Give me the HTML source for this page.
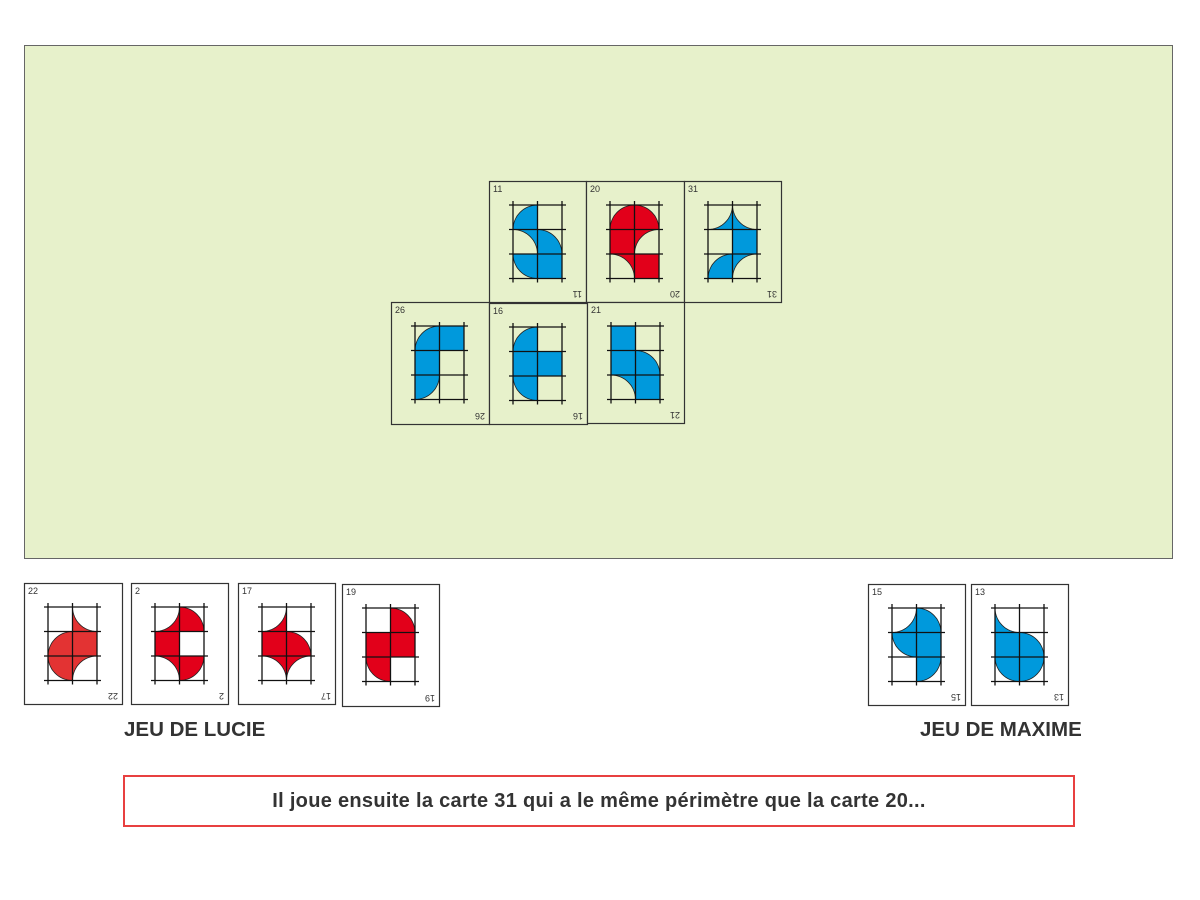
<!DOCTYPE html>
<html><head><meta charset="utf-8">
<style>
body{margin:0;width:1200px;height:900px;background:#fff;overflow:hidden;position:relative;font-family:"Liberation Sans",Arial,sans-serif}
#panel{position:absolute;left:24px;top:45px;width:1147px;height:512px;background:#e7f1cb;border:1px solid #666}
.lbl{position:absolute;font-weight:bold;font-size:20.5px;color:#333;top:718px}
#msg{position:absolute;left:123px;top:775px;width:952px;height:52px;border:2px solid #e84040;box-sizing:border-box;text-align:center;line-height:49px;font-weight:bold;font-size:20px;letter-spacing:0.3px;color:#333}
svg{position:absolute;left:0;top:0}
</style></head><body>
<div id="panel"></div>
<div class="lbl" style="left:124px">JEU DE LUCIE</div>
<div class="lbl" style="left:920px">JEU DE MAXIME</div>
<div id="msg">Il joue ensuite la carte 31 qui a le même périmètre que la carte 20...</div>
<svg id="s" width="1200" height="900" xmlns="http://www.w3.org/2000/svg"></svg>
<script>
var B='#0099dc',R='#e2001a',R2='#e33333';
var cards=[
[11,489,181,97,121,'#e7f1cb',B,[[0,0,'q','br'],[0,1,'n','bl'],[1,1,'q','bl'],[0,2,'q','tr'],[1,2,'F']]],
[20,586,181,98,121,'#e7f1cb',R,[[0,0,'q','br'],[1,0,'q','bl'],[0,1,'F'],[1,1,'n','br'],[0,2,'n','bl'],[1,2,'F']]],
[31,684,181,97,121,'#e7f1cb',B,[[0,0,'n','tl'],[1,0,'n','tr'],[1,1,'F'],[0,2,'q','br'],[1,2,'n','br']]],
[26,391,302,98,122,'#e7f1cb',B,[[0,0,'q','br'],[1,0,'F'],[0,1,'F'],[0,2,'q','tl']]],
[16,489,303,98,121,'#e7f1cb',B,[[0,0,'q','br'],[0,1,'F'],[1,1,'F'],[0,2,'q','tr']]],
[21,587,302,97,121,'#e7f1cb',B,[[0,0,'F'],[0,1,'F'],[1,1,'q','bl'],[0,2,'n','bl'],[1,2,'F']]],
[22,24,583,98,121,'#fff',R2,[[1,0,'n','tr'],[0,1,'q','br'],[1,1,'F'],[0,2,'q','tr'],[1,2,'n','br']]],
[2,131,583,97,121,'#fff',R,[[0,0,'n','tl'],[1,0,'q','bl'],[0,1,'F'],[0,2,'n','bl'],[1,2,'q','tl']]],
[17,238,583,97,121,'#fff',R,[[0,0,'n','tl'],[0,1,'F'],[1,1,'q','bl'],[0,2,'n','bl'],[1,2,'n','br']]],
[19,342,584,97,122,'#fff',R,[[1,0,'q','bl'],[0,1,'F'],[1,1,'F'],[0,2,'q','tr']]],
[15,868,584,97,121,'#fff',B,[[0,0,'n','tl'],[1,0,'q','bl'],[0,1,'q','tr'],[1,1,'F'],[1,2,'q','tl']]],
[13,971,584,97,121,'#fff',B,[[0,0,'n','tr'],[0,1,'F'],[1,1,'q','bl'],[0,2,'q','tr'],[1,2,'q','tl']]]
];
var C=24.5,h='';
var corner={tl:[0,0],tr:[1,0],bl:[0,1],br:[1,1]};
function arc(cx,cy,a0,a1){var p=[];for(var i=0;i<=16;i++){var a=a0+(a1-a0)*i/16;p.push([cx+Math.cos(a),cy+Math.sin(a)]);}return p;}
function piece(c,r,t,k){
 if(t=='F')return [[c,r],[c+1,r],[c+1,r+1],[c,r+1]];
 var cc=corner[k],cx=c+cc[0],cy=r+cc[1];
 var sx=cc[0]?-1:1,sy=cc[1]?-1:1;
 var ax=Math.atan2(0,sx),ay=Math.atan2(sy,0);
 var a0=ax,a1=ay; if(a1-a0>Math.PI)a1-=2*Math.PI; if(a0-a1>Math.PI)a1+=2*Math.PI;
 var pts=arc(cx,cy,a0,a1);
 if(t=='q'){pts.unshift([cx,cy]);return pts;}
 pts.push([cx+sx,cy+sy]);return pts;
}
cards.forEach(function(d){
 var n=d[0],x=d[1],y=d[2],w=d[3],ht=d[4],bg=d[5],col=d[6];
 var gx=x+24,gy=y+24;
 h+='<rect x="'+(x+.5)+'" y="'+(y+.5)+'" width="'+w+'" height="'+ht+'" fill="'+bg+'" stroke="#333" stroke-width="1.2"/>';
 d[7].forEach(function(p){var pts=piece(p[0],p[1],p[2],p[3]);
  h+='<polygon points="'+pts.map(function(q){return (gx+q[0]*C).toFixed(1)+','+(gy+q[1]*C).toFixed(1)}).join(' ')+'" fill="'+col+'" stroke="#222" stroke-width="0.8"/>';});
 for(var i=0;i<3;i++)h+='<line x1="'+(gx+i*C)+'" y1="'+(gy-4)+'" x2="'+(gx+i*C)+'" y2="'+(gy+3*C+4)+'" stroke="#111" stroke-width="1.3"/>';
 for(var j=0;j<4;j++)h+='<line x1="'+(gx-4)+'" y1="'+(gy+j*C)+'" x2="'+(gx+2*C+4)+'" y2="'+(gy+j*C)+'" stroke="#111" stroke-width="1.3"/>';
 h+='<text x="'+(x+4)+'" y="'+(y+11)+'" font-size="9" fill="#333" font-family="Liberation Sans,sans-serif">'+n+'</text>';
 h+='<text transform="translate('+(x+w-4)+','+(y+ht-11)+') rotate(180)" font-size="9" fill="#333" font-family="Liberation Sans,sans-serif">'+n+'</text>';
});
document.getElementById('s').innerHTML=h;
</script>
</body></html>
